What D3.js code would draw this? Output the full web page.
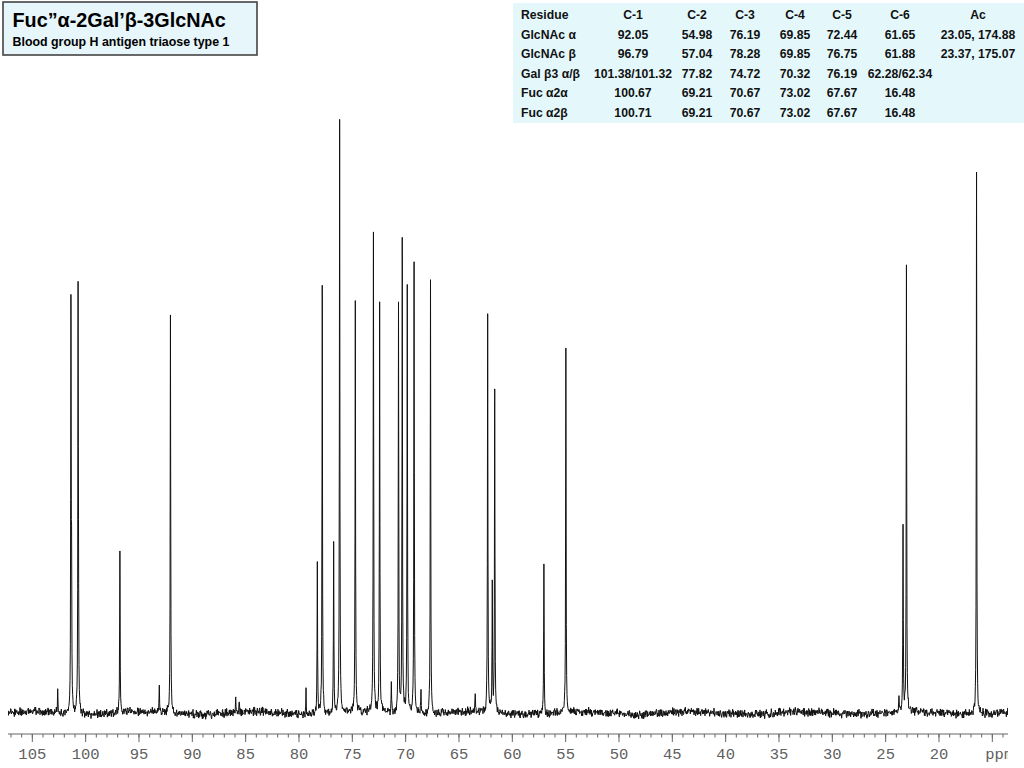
<!DOCTYPE html>
<html>
<head>
<meta charset="utf-8">
<script src="https://cdn.jsdelivr.net/npm/d3@7"></script>
<style>
  html, body { margin: 0; padding: 0; background: #fff; }
  svg { display: block; }
</style>
</head>
<body>
<svg id="chart" width="1024" height="768"></svg>
<script>
// ---- Data ----
const titleMain = "Fuc\u201D\u03B1-2Gal\u2019\u03B2-3GlcNAc";
const titleSub = "Blood group H antigen triaose type 1";

const tableHeader = ["Residue", "C-1", "C-2", "C-3", "C-4", "C-5", "C-6", "Ac"];
const tableResidues = ["GlcNAc \u03B1", "GlcNAc \u03B2", "Gal \u03B23 \u03B1/\u03B2", "Fuc \u03B12\u03B1", "Fuc \u03B12\u03B2"];
const tableC1 = ["92.05", "96.79", "101.38/101.32", "100.67", "100.71"];
const tableC2 = ["54.98", "57.04", "77.82", "69.21", "69.21"];
const tableC3 = ["76.19", "78.28", "74.72", "70.67", "70.67"];
const tableC4 = ["69.85", "69.85", "70.32", "73.02", "73.02"];
const tableC5 = ["72.44", "76.75", "76.19", "67.67", "67.67"];
const tableC6 = ["61.65", "61.88", "62.28/62.34", "16.48", "16.48"];
const tableAc = ["23.05, 174.88", "23.37, 175.07", "", "", ""];

// peak positions (ppm) and line intensities (arbitrary units)
const peakPpm =    [102.62, 101.38, 101.32, 100.71, 100.67, 96.79, 93.10, 92.05, 85.93, 85.60, 79.34,
                    78.28, 77.82, 76.75, 76.19, 74.72, 73.02, 72.44, 71.34, 70.67, 70.32, 69.85,
                    69.21, 68.56, 67.67, 63.48, 62.31, 61.88, 61.65, 57.04, 54.98, 23.75, 23.37, 23.05, 16.48];
const peakHeight = [24, 399, 128, 409, 78, 162, 26, 398, 16, 11, 25,
                    150, 427, 170, 593, 412, 480, 410, 28, 408, 472, 426,
                    450, 22, 433, 19, 398, 128, 322, 149, 365, 16, 186, 447, 541];

const majorTicks = [105, 100, 95, 90, 85, 80, 75, 70, 65, 60, 55, 50, 45, 40, 35, 30, 25, 20, 15];
const axisUnit = "ppm";

// ---- Layout ----
const svg = d3.select("#chart");
const plotLeft = 8, plotRight = 1008;
const x = d3.scaleLinear().domain([107.28, 13.53]).range([plotLeft, plotRight]);
const y = d3.scaleLinear().domain([0, 600]).range([713, 113]);

// ---- Title box ----
svg.append("rect").attr("x", 3).attr("y", 2).attr("width", 254).attr("height", 53)
  .attr("fill", "#e6f6fb").attr("stroke", "#444").attr("stroke-width", 1.6);
svg.append("text").attr("x", 12.5).attr("y", 27)
  .attr("font-family", "Liberation Sans, Arial, sans-serif").attr("font-weight", "bold")
  .attr("font-size", 19.8).attr("fill", "#000").text(titleMain);
svg.append("text").attr("x", 12.5).attr("y", 46)
  .attr("font-family", "Liberation Sans, Arial, sans-serif").attr("font-weight", "bold")
  .attr("font-size", 12.4).attr("fill", "#000").text(titleSub);

// ---- Table ----
const tbl = svg.append("g");
tbl.append("rect").attr("x", 513).attr("y", 3).attr("width", 511).attr("height", 120).attr("fill", "#e4f8fc");
const colX = [521, 633, 697, 745, 795, 842, 900, 978];
const rowY = [15, 34.5, 54, 73.5, 93, 112.5];
const cols = [tableResidues, tableC1, tableC2, tableC3, tableC4, tableC5, tableC6, tableAc];
function cell(cx, cy, txt, anchor) {
  tbl.append("text").attr("x", cx).attr("y", cy).attr("dy", "0.35em")
    .attr("text-anchor", anchor)
    .attr("font-family", "Liberation Sans, Arial, sans-serif").attr("font-weight", "bold")
    .attr("font-size", 12.2).attr("fill", "#111").text(txt);
}
tableHeader.forEach((h, i) => cell(colX[i], rowY[0], h, i === 0 ? "start" : "middle"));
cols.forEach((col, ci) => col.forEach((v, ri) => { if (v) cell(colX[ci], rowY[ri + 1], v, ci === 0 ? "start" : "middle"); }));

// ---- Axis ----
const axisY = 734;
const axisG = svg.append("g").attr("transform", `translate(0,${axisY})`);
const minorTicks = d3.range(14, 108, 1);
axisG.append("line").attr("x1", plotLeft).attr("x2", plotRight).attr("y1", 0).attr("y2", 0)
  .attr("stroke", "#666").attr("stroke-width", 1);
axisG.selectAll("line.minor").data(minorTicks).join("line").attr("class", "minor")
  .attr("x1", d => x(d)).attr("x2", d => x(d)).attr("y1", 0).attr("y2", 3.5)
  .attr("stroke", "#666").attr("stroke-width", 1);
axisG.selectAll("line.major").data(majorTicks).join("line").attr("class", "major")
  .attr("x1", d => x(d)).attr("x2", d => x(d)).attr("y1", 0).attr("y2", 8)
  .attr("stroke", "#666").attr("stroke-width", 1);
svg.append("clipPath").attr("id", "axclip").append("rect")
  .attr("x", 0).attr("y", 0).attr("width", plotRight).attr("height", 768);
const lbl = axisG.append("g").attr("clip-path", "url(#axclip)");
lbl.selectAll("text").data(majorTicks).join("text")
  .attr("x", d => d === 15 ? x(d) - 7 : x(d))
  .attr("y", 25)
  .attr("text-anchor", d => d === 15 ? "start" : "middle")
  .attr("font-family", "Liberation Mono, DejaVu Sans Mono, monospace")
  .attr("font-size", 15.5).attr("fill", "#606060")
  .text(d => d === 15 ? axisUnit : String(d));

// ---- Spectrum ----
// sample points: every third of a pixel plus every peak centre
const gamma = 0.025;
const stepPpm = (x.domain()[0] - x.domain()[1]) / ((plotRight - plotLeft) * 3);
let samples = d3.range(x.domain()[0], x.domain()[1], -stepPpm).concat(peakPpm);
samples.sort((a, b) => b - a);
function jitter(i) {
  const s = Math.sin(i * 127.1 + 311.7) * 43758.5453;
  return (s - Math.floor(s)) * 2 - 1;
}
function texture(i) {
  return 2.6 * (jitter(i) + jitter(i * 1.37 + 5.1)) + 1.3 * Math.sin(i / 53);
}
const spec = samples.map((p, i) => {
  let v = 0;
  for (let k = 0; k < peakPpm.length; k++) {
    const d = p - peakPpm[k];
    v += peakHeight[k] * gamma * gamma / (gamma * gamma + d * d);
  }
  const isCentre = peakPpm.includes(p);
  return [p, v + (isCentre ? 0 : texture(i))];
});
svg.append("clipPath").attr("id", "plotclip").append("rect")
  .attr("x", plotLeft).attr("y", 0).attr("width", plotRight - plotLeft).attr("height", 730);
svg.append("path").datum(spec)
  .attr("clip-path", "url(#plotclip)")
  .attr("fill", "none").attr("stroke", "#111").attr("stroke-width", 1)
  .attr("stroke-linejoin", "round")
  .attr("d", d3.line().x(d => x(d[0])).y(d => y(d[1])));
</script>
</body>
</html>
